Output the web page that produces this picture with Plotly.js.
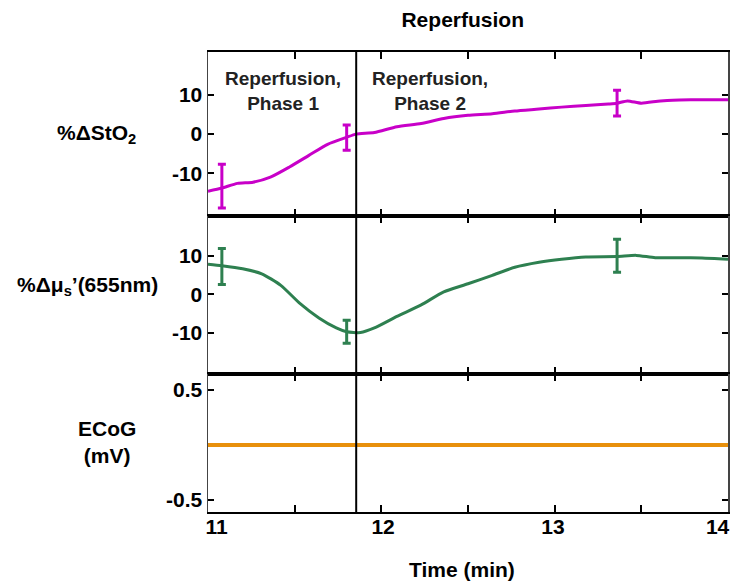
<!DOCTYPE html>
<html><head><meta charset="utf-8">
<script src="https://cdn.plot.ly/plotly-3.0.1.min.js"></script>
<style>body{margin:0;background:#fff}</style></head>
<body><div id="chart" style="width:731px;height:582px"></div>
<script>
// ---- data ----
const timeSto2 = [11.00,11.08,11.17,11.26,11.36,11.47,11.58,11.69,11.80,11.855,11.96,12.09,12.23,12.36,12.50,12.64,12.77,12.91,13.04,13.18,13.31,13.36,13.42,13.50,13.61,13.72,13.85,14.00];
const sto2 = [-14.6,-13.8,-12.6,-12.3,-11.0,-8.4,-5.5,-2.6,-0.8,0.0,0.4,1.9,2.7,4.0,4.8,5.2,5.9,6.4,6.9,7.3,7.7,7.9,8.5,7.9,8.5,8.7,8.8,8.8];
const errTimes = [11.08, 11.80, 13.36];
const sto2ErrMean = [-13.3, -0.9, 7.9];
const sto2ErrSize = [5.6, 3.2, 3.3];

const timeMus = [11.00,11.08,11.20,11.31,11.42,11.53,11.64,11.74,11.80,11.88,11.96,12.09,12.23,12.36,12.50,12.64,12.77,12.91,13.04,13.18,13.36,13.47,13.58,13.72,13.85,14.00];
const mus = [7.8,7.4,6.6,5.3,2.3,-2.4,-6.2,-8.8,-9.8,-10.0,-8.8,-5.8,-2.8,0.6,2.7,4.9,7.0,8.3,9.1,9.7,9.8,10.1,9.5,9.5,9.4,9.1];
const musErrMean = [7.2, -9.8, 10.0];
const musErrSize = [4.7, 3.0, 4.3];

const timeEcog = [11.0,11.5,12.0,12.5,13.0,13.5,14.0];
const ecog = [0.0,0.0,0.0,0.0,0.0,0.0,0.0];

const phaseBoundary = 11.855;
const xTickVals = [11,12,13,14];
const xTickText = ['11','12','13','14'];
// label anchor positions as drawn in the reference (end labels pulled inside the frame)
const xLabelPos = [11.05,12.01,12.99,13.94];

// ---- styling ----
const FONT = 'Liberation Sans, Arial, sans-serif';
const magenta = '#C800C8', green = '#2E8050', orange = '#E8900C';

const traces = [
  {x: timeSto2, y: sto2, xaxis:'x', yaxis:'y', mode:'lines', line:{color:magenta, width:3, shape:'spline', smoothing:0.6}},
  {x: errTimes, y: sto2ErrMean, xaxis:'x', yaxis:'y', mode:'markers', marker:{size:1, color:magenta, opacity:0},
   error_y:{type:'data', array: sto2ErrSize, visible:true, color:magenta, thickness:3, width:4}},
  {x: timeMus, y: mus, xaxis:'x2', yaxis:'y2', mode:'lines', line:{color:green, width:3, shape:'spline', smoothing:0.6}},
  {x: errTimes, y: musErrMean, xaxis:'x2', yaxis:'y2', mode:'markers', marker:{size:1, color:green, opacity:0},
   error_y:{type:'data', array: musErrSize, visible:true, color:green, thickness:3, width:4}},
  {x: timeEcog, y: ecog, xaxis:'x3', yaxis:'y3', mode:'lines', line:{color:orange, width:4}},
  {x: timeEcog, y: ecog, xaxis:'x4', yaxis:'y3', mode:'lines', line:{color:'rgba(0,0,0,0)', width:0}, hoverinfo:'skip'}
];

const xBase = {range:[11,14], tickvals:xTickVals, ticks:'inside', ticklen:7, tickwidth:2,
  minor:{dtick:0.5, tick0:11, ticks:'inside', ticklen:7, tickwidth:2, tickcolor:'#000'},
  tickcolor:'#000', showline:true, linecolor:'#000', linewidth:2, mirror:'ticks', showgrid:false, zeroline:false,
  showticklabels:false};
const yBase = {ticks:'inside', ticklen:6, tickwidth:2, tickcolor:'#000', showline:true, linecolor:'#444', linewidth:1.5,
  mirror:'ticks', showgrid:false, zeroline:false, tickfont:{family:FONT, size:21, color:'#000', weight:'bold'}};

const layout = {
  width:731, height:582,
  margin:{l:208, r:3, t:52, b:70},
  paper_bgcolor:'#fff', plot_bgcolor:'#fff',
  showlegend:false,
  title:{text:'Reperfusion', font:{family:FONT, size:21, color:'#000', weight:'bold'},
         xref:'container', yref:'container', x:0.633, y:0.966, xanchor:'center', yanchor:'middle'},
  xaxis: Object.assign({}, xBase, {anchor:'y'}),
  xaxis2: Object.assign({}, xBase, {anchor:'y2', matches:'x'}),
  xaxis3: Object.assign({}, xBase, {anchor:'y3', matches:'x'}),
  xaxis4: {overlaying:'x3', anchor:'y3', range:[11,14], side:'bottom', showline:false, ticks:'',
    showgrid:false, zeroline:false, tickmode:'array', tickvals:xLabelPos, ticktext:xTickText, showticklabels:true,
    tickfont:{family:FONT, size:21, color:'#000', weight:'bold'}},
  yaxis: Object.assign({}, yBase, {domain:[0.643,1], range:[-21,21], tickvals:[-10,0,10], ticktext:['-10','0','10'], anchor:'x'}),
  yaxis2: Object.assign({}, yBase, {domain:[0.3,0.643], range:[-20.8,20.3], tickvals:[-10,0,10], ticktext:['-10','0','10'], anchor:'x2'}),
  yaxis3: Object.assign({}, yBase, {domain:[0,0.3], range:[-0.61,0.645], tickvals:[-0.5,0.5], ticktext:['-0.5','0.5'], anchor:'x3'}),
  shapes:[{type:'line', xref:'x', yref:'paper', x0:phaseBoundary, x1:phaseBoundary, y0:0, y1:1, line:{color:'#000', width:2}}],
  annotations:[
    {text:'Reperfusion,<br>Phase 1', xref:'x', yref:'paper', x:11.43, y:0.915, showarrow:false, xanchor:'center', yanchor:'middle',
     font:{family:FONT, size:19, color:'#222', weight:'bold'}},
    {text:'Reperfusion,<br>Phase 2', xref:'x', yref:'paper', x:12.28, y:0.915, showarrow:false, xanchor:'center', yanchor:'middle',
     font:{family:FONT, size:19, color:'#222', weight:'bold'}},
    {text:'%ΔStO<sub>2</sub>', xref:'paper', yref:'paper', x:-0.215, y:0.822, showarrow:false, xanchor:'center', yanchor:'middle',
     font:{family:FONT, size:21, color:'#000', weight:'bold'}},
    {text:'%Δμ<sub>s</sub>\u2019(655nm)', xref:'paper', yref:'paper', x:-0.231, y:0.491, showarrow:false, xanchor:'center', yanchor:'middle',
     font:{family:FONT, size:21, color:'#000', weight:'bold'}},
    {text:'ECoG<br>(mV)', xref:'paper', yref:'paper', x:-0.195, y:0.153, showarrow:false, xanchor:'center', yanchor:'middle',
     font:{family:FONT, size:21, color:'#000', weight:'bold'}},
    {text:'Time (min)', xref:'paper', yref:'paper', x:0.488, y:-0.126, showarrow:false, xanchor:'center', yanchor:'middle',
     font:{family:FONT, size:21, color:'#000', weight:'bold'}}
  ]
};

Plotly.newPlot('chart', traces, layout, {displayModeBar:false, staticPlot:true});
</script>
</body></html>
